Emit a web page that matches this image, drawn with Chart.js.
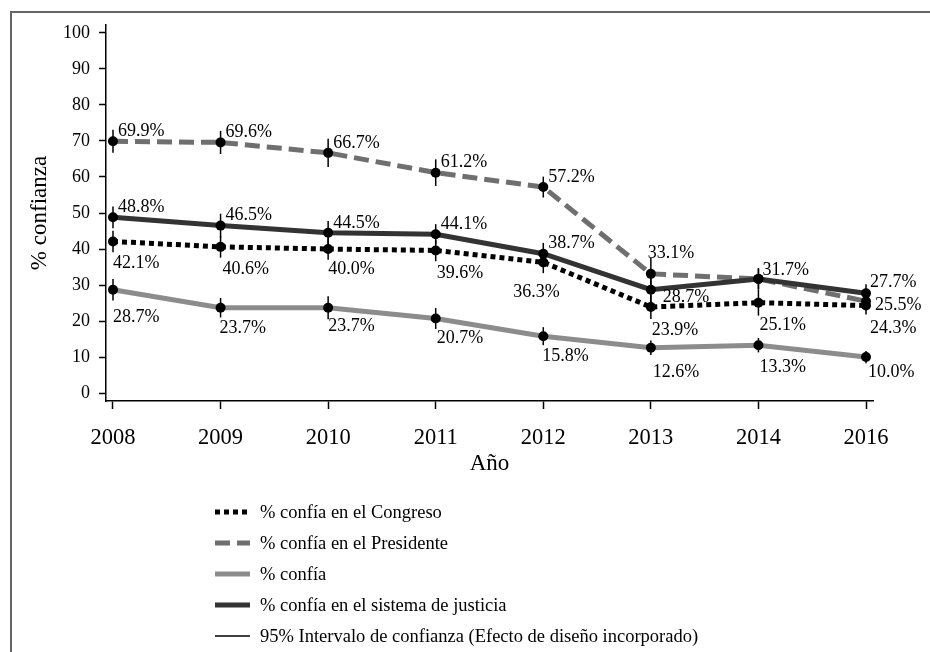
<!DOCTYPE html>
<html>
<head>
<meta charset="utf-8">
<script src="https://cdn.jsdelivr.net/npm/chart.js@4.4.1/dist/chart.umd.min.js"></script>
<style>
  html, body { margin: 0; padding: 0; background: #fff; overflow: hidden; }
  #wrap { position: relative; width: 930px; height: 652px; overflow: hidden; }
  #frame { position: absolute; left: 10px; top: 11px; width: 1000px; height: 1000px; border: 2px solid #666; }
  #chart { position: absolute; left: 0; top: 0; }
</style>
</head>
<body>
<div id="wrap">
  <div id="frame"></div>
  <canvas id="chart" width="930" height="652"></canvas>
</div>
<script>
// data
const years = ['2008', '2009', '2010', '2011', '2012', '2013', '2014', '2016'];
const yTicks = [0, 10, 20, 30, 40, 50, 60, 70, 80, 90, 100];

const congreso   = [42.1, 40.6, 40.0, 39.6, 36.3, 23.9, 25.1, 24.3];
const presidente = [69.9, 69.6, 66.7, 61.2, 57.2, 33.1, 31.7, 25.5];
const confia     = [28.7, 23.7, 23.7, 20.7, 15.8, 12.6, 13.3, 10.0];
const justicia   = [48.8, 46.5, 44.5, 44.1, 38.7, 28.7, 31.7, 27.7];

// half width of the 95% intervals
const ciCongreso   = [3.0, 3.0, 3.0, 3.0, 3.0, 3.3, 3.6, 2.5];
const ciPresidente = [3.2, 3.2, 3.9, 3.7, 2.9, 4.4, 3.0, 2.5];
const ciConfia     = [3.0, 2.7, 3.2, 2.9, 2.5, 2.0, 2.0, 1.7];
const ciJusticia   = [3.0, 3.3, 3.3, 2.8, 3.0, 3.5, 2.8, 2.5];

const seriesNames = [
  '% confía en el Congreso',
  '% confía en el Presidente',
  '% confía',
  '% confía en el sistema de justicia'
];
const ciName = '95% Intervalo de confianza (Efecto de diseño incorporado)';

// where each value label sits relative to its point (px); null = label hidden under another
const offCongreso   = [[0, 22], [2, 22], [0, 20], [1, 23], [-30, 30], [1, 23], [1, 23], [4, 23]];
const offPresidente = [[5, -10], [5, -10], [5, -10], [5, -10], [5, -10], [-3, -21], null, [9, 4]];
const offConfia     = [[0, 28], [-1, 21], [0, 19], [1, 20], [-1, 20], [2, 25], [1, 22], [2, 15]];
const offJusticia   = [[5, -10], [5, -10], [5, -10], [5, -10], [5, -10], [12, 8], [4, -9], [4, -11]];

const FONT = '"Liberation Serif", "Times New Roman", serif';

function pts(vals) {
  return vals.map((v, i) => ({ x: i, y: v }));
}

const datasets = [
  { label: seriesNames[0], data: pts(congreso), ci: ciCongreso, offs: offCongreso,
    borderColor: '#000', borderWidth: 5, borderDash: [5, 4], order: 3 },
  { label: seriesNames[1], data: pts(presidente), ci: ciPresidente, offs: offPresidente,
    borderColor: '#6f6f6f', borderWidth: 5, borderDash: [15, 7], order: 2 },
  { label: seriesNames[2], data: pts(confia), ci: ciConfia, offs: offConfia,
    borderColor: '#8c8c8c', borderWidth: 5, borderDash: [], order: 1 },
  { label: seriesNames[3], data: pts(justicia), ci: ciJusticia, offs: offJusticia,
    borderColor: '#333333', borderWidth: 5, borderDash: [], order: 0 }
];
datasets.forEach(d => {
  d.pointRadius = 0;
  d.tension = 0;
  d.fill = false;
  d.borderCapStyle = 'butt';
});

// error bars, markers and value labels on top of the lines
const overlay = {
  id: 'overlay',
  afterDatasetsDraw(chart) {
    const ctx = chart.ctx;
    const yScale = chart.scales.y;
    ctx.save();
    ctx.strokeStyle = '#000';
    ctx.lineWidth = 1.5;
    chart.data.datasets.forEach((ds, i) => {
      const meta = chart.getDatasetMeta(i);
      meta.data.forEach((el, j) => {
        const v = ds.data[j].y;
        ctx.beginPath();
        ctx.moveTo(el.x, yScale.getPixelForValue(v - ds.ci[j]));
        ctx.lineTo(el.x, yScale.getPixelForValue(v + ds.ci[j]));
        ctx.stroke();
      });
    });
    ctx.fillStyle = '#000';
    chart.data.datasets.forEach((ds, i) => {
      chart.getDatasetMeta(i).data.forEach(el => {
        ctx.beginPath();
        ctx.arc(el.x, el.y, 5, 0, Math.PI * 2);
        ctx.fill();
      });
    });
    ctx.font = '18px ' + FONT;
    ctx.textAlign = 'left';
    ctx.textBaseline = 'middle';
    chart.data.datasets.forEach((ds, i) => {
      chart.getDatasetMeta(i).data.forEach((el, j) => {
        if (!ds.offs[j]) return;
        const [dx, dy] = ds.offs[j];
        ctx.fillText(ds.data[j].y.toFixed(1) + '%', el.x + dx, el.y + dy);
      });
    });
    ctx.restore();
  },
  afterDraw(chart) {
    const ctx = chart.ctx;
    const x0 = 215, x1 = 250, tx = 260, y0 = 512, step = 31;
    ctx.save();
    ctx.font = '18.5px ' + FONT;
    ctx.textAlign = 'left';
    ctx.textBaseline = 'middle';
    chart.data.datasets.forEach((ds, i) => {
      const y = y0 + i * step;
      ctx.strokeStyle = ds.borderColor;
      ctx.lineWidth = ds.borderWidth;
      ctx.lineCap = 'butt';
      ctx.setLineDash(ds.borderDash);
      ctx.beginPath();
      ctx.moveTo(x0, y);
      ctx.lineTo(x1, y);
      ctx.stroke();
      ctx.fillStyle = '#000';
      ctx.fillText(ds.label, tx, y + 1);
    });
    const y = y0 + 4 * step;
    ctx.setLineDash([]);
    ctx.strokeStyle = '#000';
    ctx.lineWidth = 1.5;
    ctx.beginPath();
    ctx.moveTo(x0, y);
    ctx.lineTo(x1, y);
    ctx.stroke();
    ctx.fillText(ciName, tx, y + 1);
    ctx.restore();
  }
};

new Chart(document.getElementById('chart'), {
  type: 'line',
  data: { datasets },
  options: {
    responsive: false,
    animation: false,
    layout: { padding: { top: 25, right: 57, bottom: 171, left: 0 } },
    plugins: { legend: { display: false }, tooltip: { enabled: false } },
    scales: {
      x: {
        type: 'linear',
        min: -0.065,
        max: 7.065,
        afterBuildTicks: s => { s.ticks = years.map((y, i) => ({ value: i })); },
        afterFit: s => { s.height = 80; },
        ticks: {
          callback: v => years[v],
          font: { family: FONT, size: 22.5 },
          color: '#000',
          padding: 16,
          maxRotation: 0,
          autoSkip: false
        },
        grid: { display: true, drawOnChartArea: false, drawTicks: true, tickLength: 8, tickColor: '#000', tickWidth: 1.5 },
        border: { display: true, color: '#000', width: 1.5 },
        title: { display: true, text: 'Año', color: '#000', font: { family: FONT, size: 23 }, padding: { top: 0, bottom: 3 } }
      },
      y: {
        min: -2.2,
        max: 102.2,
        afterBuildTicks: s => { s.ticks = yTicks.map(v => ({ value: v })); },
        afterFit: s => { s.width = 106; },
        ticks: { font: { family: FONT, size: 18 }, color: '#000', padding: 9 },
        grid: { display: true, drawOnChartArea: false, drawTicks: true, tickLength: 7, tickColor: '#000', tickWidth: 1.5 },
        border: { display: true, color: '#000', width: 1.5 },
        title: { display: true, text: '% confianza', color: '#000', font: { family: FONT, size: 23 }, padding: { top: 26 } }
      }
    }
  },
  plugins: [overlay]
});
</script>
</body>
</html>
